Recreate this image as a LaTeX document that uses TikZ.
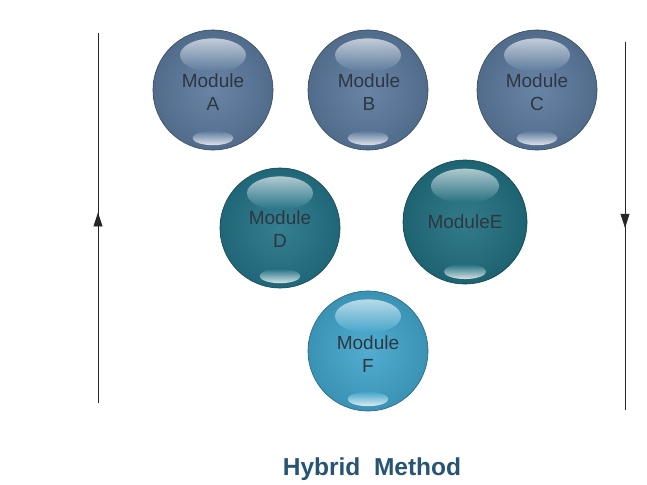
\documentclass[tikz,border=0pt]{standalone}
\usepackage{fontspec}
\setmainfont{Liberation Sans}
\usetikzlibrary{arrows.meta,decorations.markings}
\definecolor{colABC}{RGB}{92,122,158}
\definecolor{colD}{RGB}{36,116,136}
\definecolor{colE}{RGB}{34,112,128}
\definecolor{colF}{RGB}{66,166,204}
\definecolor{labeltext}{RGB}{45,55,65}
\definecolor{titletext}{RGB}{38,84,114}
\tikzset{
  sphere/.style={circle, minimum size=#1, inner sep=0pt},
  ballbody/.style={draw=#1!60!black, line width=0.6pt, shading=radial,
    inner color=#1!92!white, outer color=#1!88!black},
  ballhi/.style={top color=white!85!#1, bottom color=#1, fill opacity=0.75},
  balllo/.style={top color=#1, bottom color=white!90!#1, fill opacity=0.9},
  modlabel/.style={font=\fontsize{19}{23}\selectfont, text=labeltext, align=center},
  axisline/.style={line width=0.8pt, black!85,
    postaction={decorate, decoration={markings,
      mark=at position #1 with {\arrow{Triangle[width=9pt,length=14pt]}}}}},
}
\newcommand{\glossball}[5]{%
  % #1 name, #2 x, #3 y, #4 radius, #5 colour
  \node[sphere=2*#4pt] (#1) at (#2,#3) {};
  \path[ballbody=#5] (#1.center) circle[radius=#4pt];
  \path[ballhi=#5] ([yshift=0.58*#4pt]#1.center) ellipse[x radius=0.55*#4pt, y radius=0.28*#4pt];
  \path[balllo=#5] ([yshift=-0.80*#4pt]#1.center) ellipse[x radius=0.34*#4pt, y radius=0.12*#4pt];
}
\begin{document}
\begin{tikzpicture}[x=1pt,y=-1pt]
\useasboundingbox[fill=white] (0,0) rectangle (647,484);
\glossball{A}{213}{90}{60}{colABC}
\glossball{B}{368}{90}{60}{colABC}
\glossball{C}{537}{90}{60}{colABC}
\glossball{D}{280}{228}{60}{colD}
\glossball{E}{465}{222}{62}{colE}
\glossball{F}{368}{351}{60}{colF}
\node[modlabel] (tA) at (213,92) {Module\\A};
\node[modlabel] (tB) at (369,92) {Module\\B};
\node[modlabel] (tC) at (537,92) {Module\\C};
\node[modlabel] (tD) at (280,229) {Module\\D};
\node[modlabel] (tE) at (465,222) {ModuleE};
\node[modlabel] (tF) at (368,354) {Module\\F};
\coordinate (L1) at (98,403);
\coordinate (L2) at (98,33);
\coordinate (R1) at (625,42);
\coordinate (R2) at (625,410);
\draw[axisline=0.515] (L1) -- (L2);
\draw[axisline=0.505] (R1) -- (R2);
\node[font=\bfseries\fontsize{24.5}{28}\selectfont, text=titletext] (title) at (372,469) {Hybrid\ \ Method};
\end{tikzpicture}
\end{document}
